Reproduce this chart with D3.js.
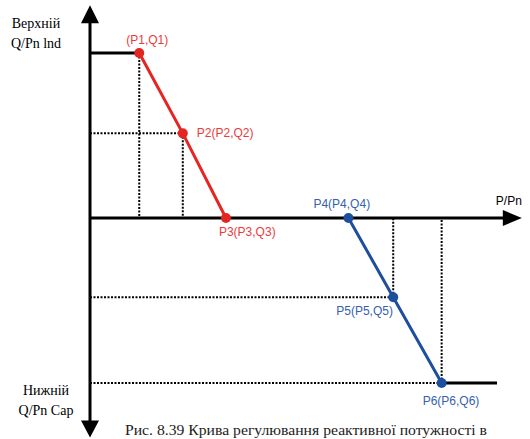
<!DOCTYPE html>
<html>
<head>
<meta charset="utf-8">
<script src="https://cdn.jsdelivr.net/npm/d3@7"></script>
<style>
  body { margin: 0; background: #fff; }
  svg { display: block; }
</style>
</head>
<body>
<svg id="chart" width="530" height="439"></svg>
<script>
// curve points, P/Pn and Q/Pn
const redPoints = [
  { name: "(P1,Q1)", p: 0.121, q: 1.0 },
  { name: "P2(P2,Q2)", p: 0.228, q: 0.513 },
  { name: "P3(P3,Q3)", p: 0.334, q: 0 }
];
const bluePoints = [
  { name: "P4(P4,Q4)", p: 0.635, q: 0 },
  { name: "P5(P5,Q5)", p: 0.745, q: -0.48 },
  { name: "P6(P6,Q6)", p: 0.864, q: -1.0 }
];
const pDomain = [0, 1];
const qDomain = [-1, 1];
const pAxisEnd = 1.061;
const qAxisTop = 1.29;
const qAxisBottom = -1.33;
const upperLabel = ["Верхній", "Q/Pn lnd"];
const lowerLabel = ["Нижній", "Q/Pn Cap"];
const xAxisLabel = "P/Pn";
const caption = "Рис. 8.39 Крива регулювання реактивної потужності в";

const red = "#e42522", blue = "#1e4e9e";
const redText = "#ea3c3a", blueText = "#3462ae";

const svg = d3.select("#chart");
const x = d3.scaleLinear().domain(pDomain).range([90, 497]);
const y = d3.scaleLinear().domain(qDomain).range([383, 53]);

// dotted guide lines
const guides = [
  { x1: redPoints[0].p, y1: redPoints[0].q, x2: redPoints[0].p, y2: 0 },
  { x1: 0, y1: redPoints[1].q, x2: redPoints[1].p, y2: redPoints[1].q },
  { x1: redPoints[1].p, y1: redPoints[1].q, x2: redPoints[1].p, y2: 0 },
  { x1: 0, y1: bluePoints[1].q, x2: bluePoints[1].p, y2: bluePoints[1].q },
  { x1: bluePoints[1].p, y1: bluePoints[1].q, x2: bluePoints[1].p, y2: 0 },
  { x1: 0, y1: bluePoints[2].q, x2: bluePoints[2].p, y2: bluePoints[2].q },
  { x1: bluePoints[2].p, y1: bluePoints[2].q, x2: bluePoints[2].p, y2: 0 }
];
svg.append("g").selectAll("line").data(guides).join("line")
  .attr("x1", d => x(d.x1)).attr("y1", d => y(d.y1))
  .attr("x2", d => x(d.x2)).attr("y2", d => y(d.y2))
  .attr("stroke", "#000").attr("stroke-width", 2)
  .attr("stroke-dasharray", "2,1.5");

// axes
const axes = svg.append("g");
axes.append("line")
  .attr("x1", x(0)).attr("x2", x(pAxisEnd) - 12)
  .attr("y1", y(0)).attr("y2", y(0))
  .attr("stroke", "#000").attr("stroke-width", 3);
axes.append("line")
  .attr("x1", x(0)).attr("x2", x(0))
  .attr("y1", y(qAxisTop) + 10).attr("y2", y(qAxisBottom) - 10)
  .attr("stroke", "#000").attr("stroke-width", 3);
const ax = x(pAxisEnd), ay = y(0);
axes.append("path")
  .attr("d", `M${ax},${ay} L${ax - 19},${ay - 8} L${ax - 19},${ay + 8} Z`);
const ux = x(0), uy = y(qAxisTop);
axes.append("path")
  .attr("d", `M${ux},${uy} L${ux - 9},${uy + 18} L${ux + 9},${uy + 18} Z`);
const by = y(qAxisBottom);
axes.append("path")
  .attr("d", `M${ux},${by} L${ux - 9},${by - 17} L${ux + 9},${by - 17} Z`);

// flat limits
svg.append("line")
  .attr("x1", x(0)).attr("x2", x(redPoints[0].p))
  .attr("y1", y(redPoints[0].q)).attr("y2", y(redPoints[0].q))
  .attr("stroke", "#000").attr("stroke-width", 3);
svg.append("line")
  .attr("x1", x(bluePoints[2].p)).attr("x2", x(pDomain[1]))
  .attr("y1", y(bluePoints[2].q)).attr("y2", y(bluePoints[2].q))
  .attr("stroke", "#000").attr("stroke-width", 3);

const line = d3.line().x(d => x(d.p)).y(d => y(d.q));
[[redPoints, red], [bluePoints, blue]].forEach(([pts, c]) => {
  svg.append("path").datum(pts)
    .attr("d", line).attr("fill", "none")
    .attr("stroke", c).attr("stroke-width", 3);
  svg.append("g").selectAll("circle").data(pts).join("circle")
    .attr("cx", d => x(d.p)).attr("cy", d => y(d.q)).attr("r", 5)
    .attr("fill", c);
});

// point labels
const labelPos = [
  { d: redPoints[0], dx: -13, dy: -9, c: redText },
  { d: redPoints[1], dx: 14, dy: 4, c: redText },
  { d: redPoints[2], dx: -7, dy: 18, c: redText },
  { d: bluePoints[0], dx: -35, dy: -10, c: blueText },
  { d: bluePoints[1], dx: -57, dy: 18, c: blueText },
  { d: bluePoints[2], dx: -19, dy: 22, c: blueText }
];
svg.append("g").selectAll("text").data(labelPos).join("text")
  .attr("x", l => x(l.d.p) + l.dx).attr("y", l => y(l.d.q) + l.dy)
  .attr("fill", l => l.c)
  .attr("font-family", "Liberation Sans, Arial, sans-serif")
  .attr("font-size", 12)
  .text(l => l.d.name);

svg.append("text")
  .attr("x", x(pAxisEnd) - 26).attr("y", y(0) - 13)
  .attr("font-family", "Liberation Sans, Arial, sans-serif")
  .attr("font-size", 12).text(xAxisLabel);

const serif = "Liberation Serif, 'Times New Roman', serif";
svg.append("g").selectAll("text").data(upperLabel).join("text")
  .attr("x", 36).attr("y", (d, i) => 28 + i * 20)
  .attr("text-anchor", "middle").attr("font-family", serif).attr("font-size", 14)
  .text(d => d);
svg.append("g").selectAll("text").data(lowerLabel).join("text")
  .attr("x", 46).attr("y", (d, i) => 395 + i * 20)
  .attr("text-anchor", "middle").attr("font-family", serif).attr("font-size", 14)
  .text(d => d);

svg.append("text")
  .attr("x", 125).attr("y", 435)
  .attr("font-family", serif).attr("font-size", 14)
  .attr("textLength", 362).attr("lengthAdjust", "spacingAndGlyphs")
  .attr("fill", "#222")
  .text(caption);
</script>
</body>
</html>
